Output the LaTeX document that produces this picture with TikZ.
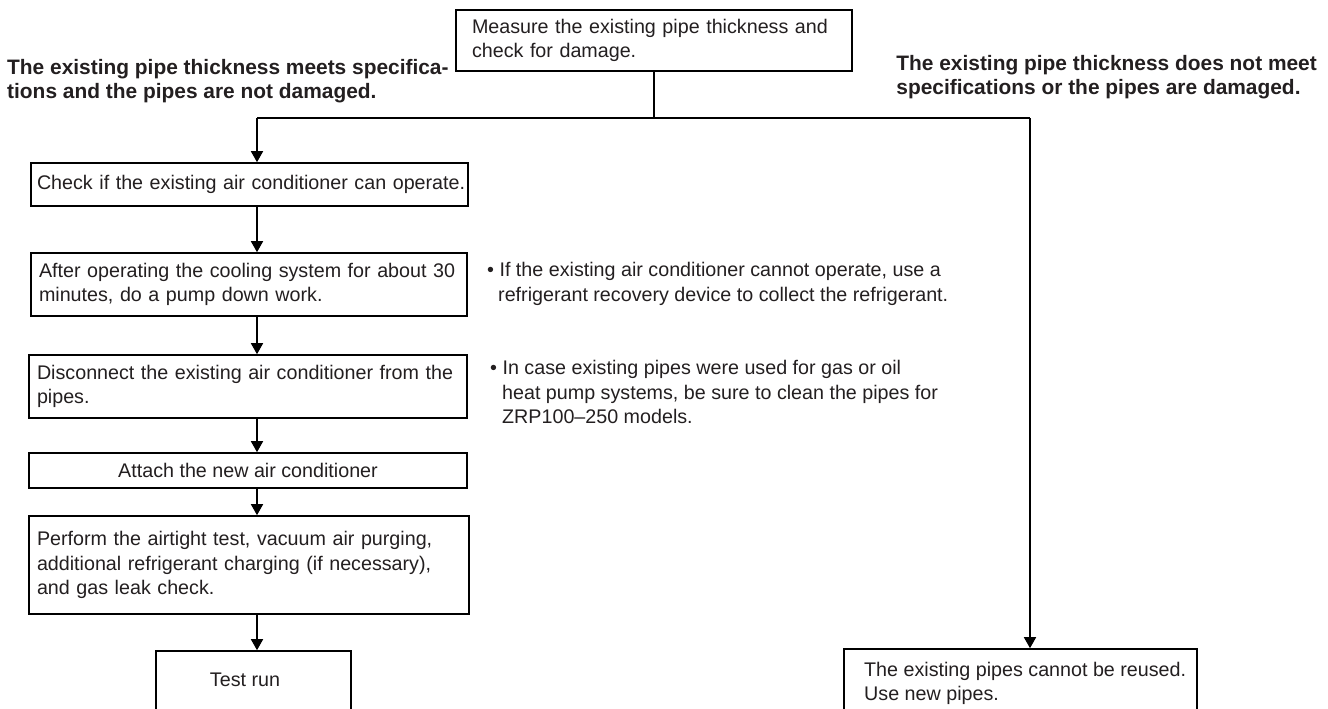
\documentclass[tikz,border=0pt]{standalone}
\usepackage{fontspec}
\setmainfont{Liberation Sans}
\usetikzlibrary{arrows.meta}
\definecolor{txt}{HTML}{231F20}
\newcommand\fsz{\fontsize{19.7}{24.5}\selectfont}
\newcommand\bsz{\fontsize{20.9}{24.5}\selectfont\bfseries}
\tikzset{
  ln/.style={line width=1.6pt, draw=black},
  arr/.style={ln, -{Triangle[width=12pt,length=11pt]}},
  bx/.style={ln, rectangle, inner sep=0pt, text=txt, font=\fsz, fill=white},
  tx/.style={inner sep=0pt, text=txt, font=\fsz, align=left},
  lbl/.style={inner sep=0pt, text=txt, font=\bsz, align=left},
}
\begin{document}
\begin{tikzpicture}[x=1pt,y=-1pt]
\useasboundingbox (0,0) rectangle (1328,709);
\clip (0,0) rectangle (1328,709);

% boxes
\node[bx, minimum width=396pt, minimum height=61pt, text width=364pt, align=left] (top) at (654,40.5)
  {\mbox{Measure the existing pipe thickness and}\\check for damage.};
\node[bx, minimum width=437pt, minimum height=43pt, text width=425pt, align=left] (chk) at (249.5,184.5)
  {\mbox{Check if the existing air conditioner can operate.}};
\node[bx, minimum width=436pt, minimum height=63pt, text width=420pt, align=left] (pump) at (249,284.5)
  {\mbox{After operating the cooling system for about 30}\\minutes, do a pump down work.};
\node[bx, minimum width=438pt, minimum height=63pt, text width=422pt, align=left] (disc) at (248,386.5)
  {\mbox{Disconnect the existing air conditioner from the}\\pipes.};
\node[bx, minimum width=438pt, minimum height=35pt, align=center] (att) at (248,470.5)
  {Attach the new air conditioner};
\node[bx, minimum width=440pt, minimum height=98pt, text width=424pt, align=left] (perf) at (249,565)
  {\makebox[424pt][s]{Perform the airtight test, vacuum air purging,}\\
   \makebox[424pt][s]{additional refrigerant charging (if necessary),}\\
   and gas leak check.};
\node[bx, minimum width=195pt, minimum height=89pt] (test) at (253.5,695.5) {};
\node[tx] (testtxt) at (245,680) {Test run};
\node[bx, minimum width=353pt, minimum height=91pt] (newp) at (1020.5,694.5) {};
\node[tx, anchor=north west] (newtxt) at (864,662)
  {The existing pipes cannot be reused.\\Use new pipes.};

% labels
\node[lbl, anchor=north west] (lyes) at (7,58.7)
  {The existing pipe thickness meets specifica-\\tions and the pipes are not damaged.};
\node[lbl, anchor=north east] (lno) at (1317,54.7)
  {The existing pipe thickness does not meet\\specifications or the pipes are damaged.};

% notes
\node[tx, anchor=north west] (note1) at (487,262.5)
  {• If the existing air conditioner cannot operate, use a\\
   \hspace*{11pt}refrigerant recovery device to collect the refrigerant.};
\node[tx, anchor=north west] (note2) at (490,360.5)
  {• In case existing pipes were used for gas or oil\\
   \hspace*{12pt}heat pump systems, be sure to clean the pipes for\\
   \hspace*{12pt}ZRP100–250 models.};

% connectors
\coordinate (jl) at (257,118);
\coordinate (jr) at (1030,118);
\coordinate (col) at (257,0);
\draw[ln] (top.south) -- (top.south |- jl);
\draw[ln] (jl) -- (jr);
\draw[arr] (jl) -- (chk.north -| jl);
\draw[arr] (jr) -- (newp.north -| jr);
\draw[arr] (chk.south -| col) -- (pump.north -| col);
\draw[arr] (pump.south -| col) -- (disc.north -| col);
\draw[arr] (disc.south -| col) -- (att.north -| col);
\draw[arr] (att.south -| col) -- (perf.north -| col);
\draw[arr] (perf.south -| col) -- (test.north -| col);
\end{tikzpicture}
\end{document}
